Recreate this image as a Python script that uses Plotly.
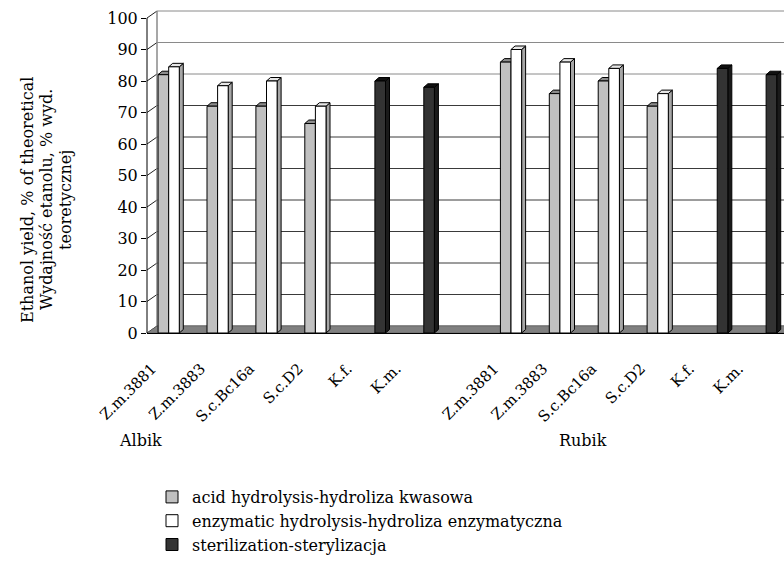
import plotly.graph_objects as go

# ---------------- data ----------------
strains = ["Z.m.3881", "Z.m.3883", "S.c.Bc16a", "S.c.D2", "K.f.", "K.m."]
cultivars = ["Albik", "Rubik"]

acid_albik = [82, 72, 72, 66.5, None, None]
enz_albik = [84.5, 78.5, 80, 72, None, None]
ster_albik = [None, None, None, None, 80, 78]

acid_rubik = [86, 76, 80, 72, None, None]
enz_rubik = [90, 86, 84, 76, None, None]
ster_rubik = [None, None, None, None, 84, 82]

series_names = ["acid hydrolysis-hydroliza kwasowa",
                "enzymatic hydrolysis-hydroliza enzymatyczna",
                "sterilization-sterylizacja"]
y_ticks = [0, 10, 20, 30, 40, 50, 60, 70, 80, 90, 100]

# ---------------- geometry / style ----------------
FONT = "DejaVu Serif, Liberation Serif, serif"
FS = 16
W, H = 784, 565
ML, MR, MT, MB = 147, 0, 9, 232
plot_w = W - ML - MR
plot_h = H - MT - MB
XMIN, XMAX = -0.552, 12.474
YMAX = 102.86
px_x = (XMAX - XMIN) / plot_w      # data units per pixel (x)
px_y = YMAX / plot_h               # data units per pixel (y)

# category positions: Albik 0..5, gap, Rubik 7..12
x_pos = list(range(len(strains))) + [i + len(strains) + 1 for i in range(len(strains))]
labels = strains + strains

acid = acid_albik + acid_rubik
enz = enz_albik + enz_rubik
ster = ster_albik + ster_rubik

bw = 10.6 * px_x                     # bar slot width
offsets = [-1.5 * bw, -0.5 * bw, 0.5 * bw]
fills = ["#c0c0c0", "#ffffff", "#333333"]
tops = ["#8c8c8c", "#e6e6e6", "#111111"]
sides = ["#8c8c8c", "#a6a6a6", "#1a1a1a"]

bdx, bdy = 4 * px_x, 3.5 * px_y      # bar depth
wdx, wdy = 10 * px_x, 7 * px_y       # wall depth

fig = go.Figure()
shapes = []

# back wall gridlines
for v in y_ticks:
    col = "#8a8a8a" if v >= 80 else "#3a3a3a"
    shapes.append(dict(type="line", xref="x", yref="y", layer="below",
                       x0=XMIN + wdx, x1=XMAX + 1, y0=v + wdy, y1=v + wdy,
                       line=dict(color=col, width=1)))
    # side wall diagonals
    shapes.append(dict(type="line", xref="x", yref="y", layer="below",
                       x0=XMIN, x1=XMIN + wdx, y0=v, y1=v + wdy,
                       line=dict(color="#222222", width=1)))
# back wall left edge
shapes.append(dict(type="line", xref="x", yref="y", layer="below",
                   x0=XMIN + wdx, x1=XMIN + wdx, y0=wdy, y1=100 + wdy,
                   line=dict(color="#8a8a8a", width=1.5)))
# floor
shapes.append(dict(type="path", xref="x", yref="y", layer="below",
                   path=f"M {XMIN},0 L {XMAX + 1},0 L {XMAX + 1},{wdy} L {XMIN + wdx},{wdy} Z",
                   fillcolor="#808080", line=dict(color="#555555", width=0.5)))
# front axis line
shapes.append(dict(type="line", xref="paper", yref="y", x0=0, x1=0, y0=0, y1=100,
                   line=dict(color="black", width=1)))

# bar traces + 3D faces
for k, vals in enumerate([acid, enz, ster]):
    fig.add_trace(go.Bar(
        x=x_pos, y=vals, name=series_names[k], width=bw, offset=offsets[k],
        marker=dict(color=fills[k], line=dict(color="black", width=1)),
        legendgroup=str(k), hoverinfo="y"))
    for xc, v in zip(x_pos, vals):
        if v is None:
            continue
        x0 = xc + offsets[k]
        x1 = x0 + bw
        shapes.append(dict(type="path", xref="x", yref="y", layer="below",
                           path=f"M {x1},0 L {x1},{v} L {x1 + bdx},{v + bdy} L {x1 + bdx},{bdy} Z",
                           fillcolor=sides[k], line=dict(color="black", width=1)))
        shapes.append(dict(type="path", xref="x", yref="y", layer="below",
                           path=f"M {x0},{v} L {x1},{v} L {x1 + bdx},{v + bdy} L {x0 + bdx},{v + bdy} Z",
                           fillcolor=tops[k], line=dict(color="black", width=1)))

# annotations: cultivar labels and y title lines
annots = []
for name, xp in zip(cultivars, [140, 583]):
    annots.append(dict(text=name, xref="paper", yref="paper",
                       x=(xp - ML) / plot_w, y=(MT + plot_h - 440) / plot_h,
                       xanchor="center", yanchor="middle", showarrow=False,
                       font=dict(family=FONT, size=FS, color="black")))
title_lines = ["Ethanol yield, % of theoretical",
               "Wydajność etanolu, % wyd.",
               "teoretycznej"]
for line, xp in zip(title_lines, [28, 47, 66]):
    annots.append(dict(text=line, xref="paper", yref="paper", textangle=-90,
                       x=(xp - ML) / plot_w, y=(MT + plot_h - 200) / plot_h,
                       xanchor="center", yanchor="middle", showarrow=False,
                       font=dict(family=FONT, size=FS, color="black")))

fig.update_layout(
    width=W, height=H,
    margin=dict(l=ML, r=MR, t=MT, b=MB, pad=0),
    paper_bgcolor="white", plot_bgcolor="white",
    barmode="overlay",
    font=dict(family=FONT, size=FS, color="black"),
    shapes=shapes, annotations=annots,
    showlegend=True,
    legend=dict(orientation="v", x=(152 - ML) / plot_w, y=(MT + plot_h - 480) / plot_h,
                xanchor="left", yanchor="top", traceorder="normal",
                font=dict(family=FONT, size=FS, color="black"),
                bgcolor="rgba(0,0,0,0)", tracegroupgap=2),
    xaxis=dict(range=[XMIN, XMAX], tickmode="array",
               tickvals=[p - 22 * px_x for p in x_pos], ticktext=labels,
               tickangle=-45, showgrid=False, zeroline=False,
               showline=True, linecolor="black", linewidth=1, ticks="",
               ticklabelstandoff=20, tickfont=dict(family=FONT, size=15)),
    yaxis=dict(range=[0, YMAX], tickmode="array", tickvals=y_ticks,
               ticktext=[str(t) for t in y_ticks],
               showgrid=False, zeroline=False, showline=False,
               ticks="outside", ticklen=5, tickcolor="black"),
)

fig.write_html("out.html", config={"displayModeBar": False},
               post_script="document.body.style.margin='0px';")
